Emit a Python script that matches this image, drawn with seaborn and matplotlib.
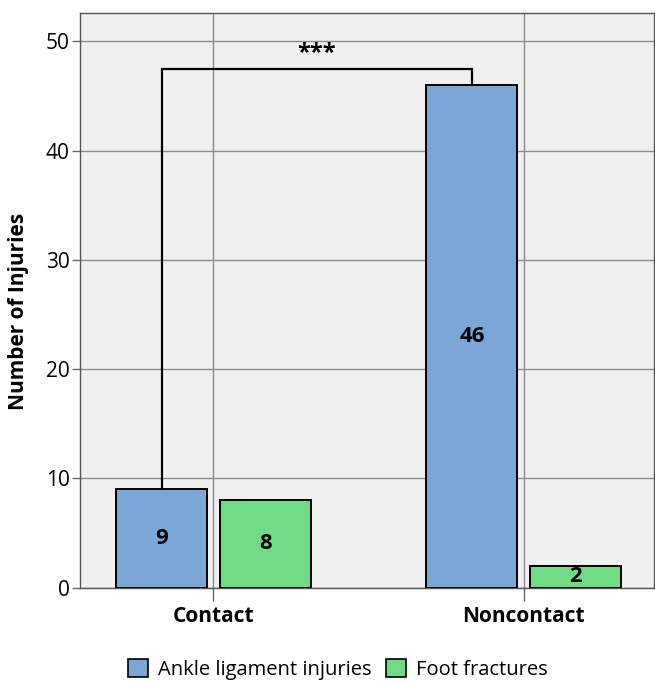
import matplotlib
matplotlib.use("Agg")
import matplotlib.pyplot as plt
import matplotlib.patches as mpatches
import seaborn as sns
import pandas as pd

categories = ["Contact", "Noncontact"]
series = ["Ankle ligament injuries", "Foot fractures"]
ankle_values = [9, 46]
foot_values = [8, 2]
y_ticks = [0, 10, 20, 30, 40, 50]
colors = ["#7aa7d5", "#70db84"]

df = pd.DataFrame({
    "Mechanism": categories * 2,
    "Injury": [series[0]] * 2 + [series[1]] * 2,
    "Count": ankle_values + foot_values,
})

sns.set_theme(style="white")
plt.rcParams["font.family"] = ["Open Sans", "DejaVu Sans"]
plt.rcParams["text.color"] = "black"
plt.rcParams["axes.labelcolor"] = "black"
plt.rcParams["xtick.color"] = "black"
plt.rcParams["ytick.color"] = "black"

fig = plt.figure(figsize=(6.55, 6.82), dpi=100)
ax = fig.add_axes([0.1221, 0.1383, 0.8764, 0.8427])
ax.set_facecolor("#f0f0f0")

sns.barplot(data=df, x="Mechanism", y="Count", hue="Injury",
            order=categories, hue_order=series, palette=colors,
            width=0.667, gap=0.12, edgecolor="black", linewidth=1.4,
            saturation=1, legend=False, ax=ax, zorder=3)

for cont in ax.containers:
    ax.bar_label(cont, label_type="center", fontsize=16, fontweight="bold",
                 color="black", zorder=5)

ax.set_ylim(0, 52.6)
ax.set_xlim(-0.43, 1.42)
ax.set_yticks(y_ticks)
ax.set_xticks(range(len(categories)))
ax.set_xticklabels(categories, fontsize=15, fontweight="bold")
ax.tick_params(axis="y", labelsize=15, length=6, width=1, color="#666666",
               left=True, pad=1.5)
ax.tick_params(axis="x", length=9, width=1, color="#666666", bottom=True, pad=4)
ax.grid(True, color="#8a8a8a", linewidth=1, zorder=0)
ax.set_axisbelow(True)
for s in ax.spines.values():
    s.set_color("#555555")
    s.set_linewidth(1)
ax.set_xlabel("")
ax.set_ylabel("Number of Injuries", fontsize=15, fontweight="bold")
ax.yaxis.set_label_coords(-0.088, 0.48)

# significance bracket between the two ankle-ligament bars
ankle_bars = ax.containers[0]
p0, p1 = ankle_bars[0], ankle_bars[1]
x0 = p0.get_x() + p0.get_width() / 2
x1 = p1.get_x() + p1.get_width() / 2
bracket_y = 47.5
ax.plot([x0, x0, x1, x1], [p0.get_height(), bracket_y, bracket_y, p1.get_height()],
        color="black", linewidth=1.6, zorder=4, solid_joinstyle="miter")
ax.text((x0 + x1) / 2, 48.9, "***", ha="center", va="center",
        fontsize=17, fontweight="bold", zorder=5)

handles = [mpatches.Patch(facecolor=c, edgecolor="black", linewidth=1.2, label=l)
           for c, l in zip(colors, series)]
fig.legend(handles=handles, loc="center", bbox_to_anchor=(0.516, 0.018), ncol=2,
           frameon=False, fontsize=14.5, handlelength=1.0, handleheight=1.0,
           columnspacing=0.7, handletextpad=0.5)

fig.savefig("out.png", dpi=100)
